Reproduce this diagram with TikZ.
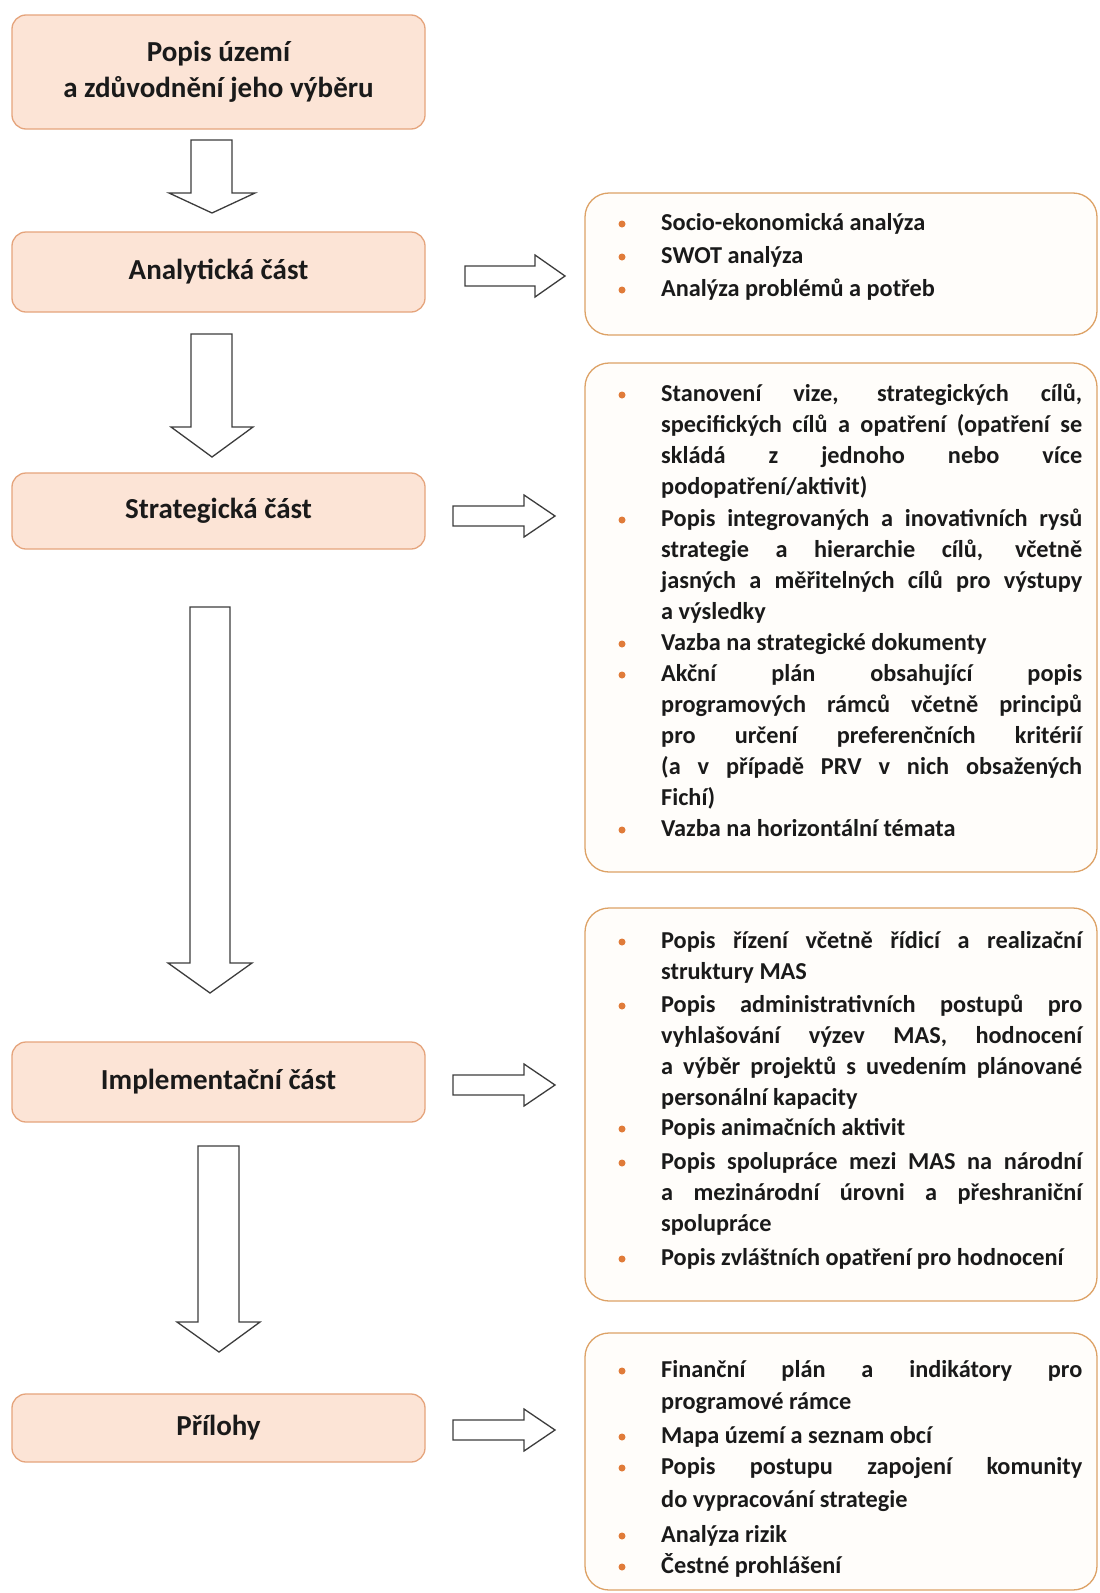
\documentclass[tikz,border=0pt]{standalone}
\usepackage{fontspec}
\setmainfont{Carlito}
\definecolor{lfill}{HTML}{FCE4D6}
\definecolor{ldraw}{HTML}{E5A47C}
\definecolor{rdraw}{HTML}{DDA266}
\definecolor{rfill}{HTML}{FFFDFA}
\definecolor{bulc}{HTML}{E07B39}
\definecolor{arrc}{HTML}{3C3C3C}
\definecolor{txt}{HTML}{1A1A1A}
\newcommand\myitemfont[1]{\fontsize{24.3}{#1}\selectfont\bfseries\spaceskip=0.226em plus 3em minus 0.07em\relax\hyphenpenalty=10000\relax}
\begin{document}
\begin{tikzpicture}[x=1pt,y=-1pt,
  lbox/.style={draw=ldraw, fill=lfill, line width=1.3pt, rounded corners=14pt,
    minimum width=413pt, inner sep=0pt, align=center, text=txt,
    font=\fontsize{29}{36}\selectfont\bfseries},
  rbox/.style={draw=rdraw, fill=rfill, line width=1.3pt, rounded corners=24pt,
    minimum width=512pt, inner sep=0pt},
  itm/.style={anchor=base west, text width=421pt, align=justify, inner sep=0pt, text=txt,
    font=\myitemfont{31}},
  bul/.style={circle, fill=bulc, inner sep=0pt, minimum size=7pt},
  blk/.style={draw=arrc, fill=white, line width=1.3pt, line join=miter}
]
\useasboundingbox[fill=white] (0,0) rectangle (1100,1593);

% left boxes
\node[lbox, minimum height=114pt] (b1) at (218.5,72) {Popis území\\a zdůvodnění jeho výběru};
\node[lbox, minimum height=80pt] (b2) at (218.5,272) {Analytická část};
\node[lbox, minimum height=76pt] (b3) at (218.5,511) {Strategická část};
\node[lbox, minimum height=80pt] (b4) at (218.5,1082) {Implementační část};
\node[lbox, minimum height=68pt] (b5) at (218.5,1428) {Přílohy};

% down block arrows
\draw[blk] (191,140) -- (232,140) -- (232,193) -- (255,193) -- (212,213) -- (169,193) -- (191,193) -- cycle;
\draw[blk] (191,334) -- (232,334) -- (232,427) -- (253,427) -- (212,457) -- (171,427) -- (191,427) -- cycle;
\draw[blk] (190,607) -- (230,607) -- (230,963) -- (252,963) -- (210,993) -- (168,963) -- (190,963) -- cycle;
\draw[blk] (198,1146) -- (239,1146) -- (239,1322) -- (260,1322) -- (219,1352) -- (177,1322) -- (198,1322) -- cycle;

% right block arrows
\draw[blk] (465,266) -- (535,266) -- (535,255) -- (565,276) -- (535,297) -- (535,286) -- (465,286) -- cycle;
\draw[blk] (453,506) -- (524,506) -- (524,495) -- (555,516) -- (524,537) -- (524,526) -- (453,526) -- cycle;
\draw[blk] (453,1075) -- (524,1075) -- (524,1064) -- (555,1085) -- (524,1106) -- (524,1095) -- (453,1095) -- cycle;
\draw[blk] (453,1420) -- (524,1420) -- (524,1409) -- (555,1430) -- (524,1451) -- (524,1440) -- (453,1440) -- cycle;

% right boxes
\node[rbox, minimum height=142pt] (r1) at (841,264) {};
\node[rbox, minimum height=509pt] (r2) at (841,617.5) {};
\node[rbox, minimum height=393pt] (r3) at (841,1104.5) {};
\node[rbox, minimum height=257pt] (r4) at (841,1461.5) {};

% box 1 items
\node[bul] (r1b1) at (622,224) {};
\node[itm] (r1i1) at (661,230) {Socio-ekonomická analýza};
\node[bul] (r1b2) at (622,257) {};
\node[itm] (r1i2) at (661,263) {SWOT analýza};
\node[bul] (r1b3) at (622,290) {};
\node[itm] (r1i3) at (661,296) {Analýza problémů a potřeb};

% box 2 items
\node[bul] (r2b1) at (622,395) {};
\node[itm] (r2i1) at (661,401) {Stanovení vize, strategických cílů,\linebreak specifických cílů a opatření (opatření se\linebreak skládá z jednoho nebo více\linebreak podopatření/aktivit)};
\node[bul] (r2b2) at (622,520) {};
\node[itm] (r2i2) at (661,526) {Popis integrovaných a inovativních rysů\linebreak strategie a hierarchie cílů, včetně\linebreak jasných a měřitelných cílů pro výstupy\linebreak a výsledky};
\node[bul] (r2b3) at (622,644) {};
\node[itm] (r2i3) at (661,650) {Vazba na strategické dokumenty};
\node[bul] (r2b4) at (622,675) {};
\node[itm] (r2i4) at (661,681) {Akční plán obsahující popis\linebreak programových rámců včetně principů\linebreak pro určení preferenčních kritérií\linebreak (a v případě PRV v nich obsažených\linebreak Fichí)};
\node[bul] (r2b5) at (622,830) {};
\node[itm] (r2i5) at (661,836) {Vazba na horizontální témata};

% box 3 items
\node[bul] (r3b1) at (622,942) {};
\node[itm] (r3i1) at (661,948) {Popis řízení včetně řídicí a realizační\linebreak struktury MAS};
\node[bul] (r3b2) at (622,1006) {};
\node[itm] (r3i2) at (661,1012) {Popis administrativních postupů pro\linebreak vyhlašování výzev MAS, hodnocení\linebreak a výběr projektů s uvedením plánované\linebreak personální kapacity};
\node[bul] (r3b3) at (622,1129) {};
\node[itm] (r3i3) at (661,1135) {Popis animačních aktivit};
\node[bul] (r3b4) at (622,1163) {};
\node[itm] (r3i4) at (661,1169) {Popis spolupráce mezi MAS na národní\linebreak a mezinárodní úrovni a přeshraniční\linebreak spolupráce};
\node[bul] (r3b5) at (622,1259) {};
\node[itm] (r3i5) at (661,1265) {Popis zvláštních opatření pro hodnocení};

% box 4 items
\node[bul] (r4b1) at (622,1371) {};
\node[itm, font=\myitemfont{32}] (r4i1) at (661,1377) {Finanční plán a indikátory pro\linebreak programové rámce};
\node[bul] (r4b2) at (622,1437) {};
\node[itm] (r4i2) at (661,1443) {Mapa území a seznam obcí};
\node[bul] (r4b3) at (622,1468) {};
\node[itm, font=\myitemfont{33}] (r4i3) at (661,1474) {Popis postupu zapojení komunity\linebreak do vypracování strategie};
\node[bul] (r4b4) at (622,1536) {};
\node[itm] (r4i4) at (661,1542) {Analýza rizik};
\node[bul] (r4b5) at (622,1567) {};
\node[itm] (r4i5) at (661,1573) {Čestné prohlášení};
\end{tikzpicture}
\end{document}
